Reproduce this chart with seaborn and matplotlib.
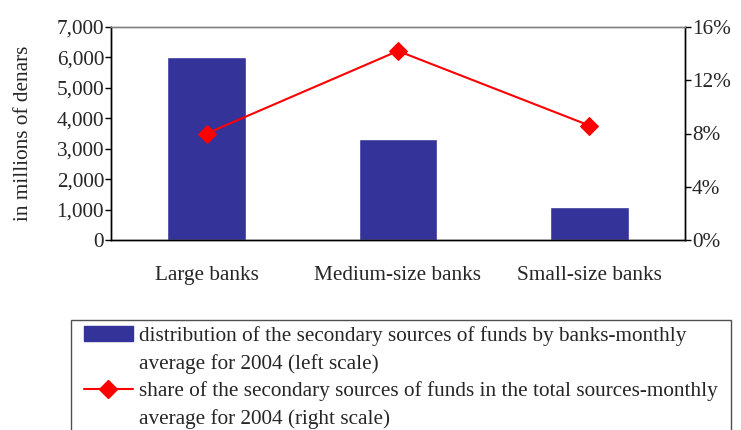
import matplotlib
matplotlib.use("Agg")
import matplotlib.pyplot as plt
import seaborn as sns
import numpy as np
from matplotlib.lines import Line2D
from matplotlib.patches import Patch, Rectangle
from matplotlib.ticker import FuncFormatter, MultipleLocator

sns.set_theme(style="white")
plt.rcParams["font.family"] = ["Liberation Serif", "DejaVu Serif"]

banks = ["Large banks", "Medium-size banks", "Small-size banks"]
funds = [6000, 3320, 1085]  # millions of denars, left scale
share = [8.0, 14.2, 8.6]  # percent, right scale

bar_color = "#333399"
line_color = "#FF0000"
fs = 15.3

W, H = 741, 430
fig = plt.figure(figsize=(W / 100, H / 100), dpi=100)
ax = fig.add_axes([111 / W, 1 - 240 / H, (685 - 111) / W, (240 - 27) / H])

pos = np.arange(len(banks))
sns.barplot(x=pos, y=funds, color=bar_color, width=0.41, saturation=1,
            native_scale=True, ax=ax)
ax.set_xlim(-0.5, 2.5)
ax.set_ylim(0, 7000)
ax.yaxis.set_major_locator(MultipleLocator(1000))
ax.yaxis.set_major_formatter(FuncFormatter(lambda v, p: f"{v:,.0f}"))
ax.set_xticks([-0.5, 0.5, 1.5, 2.5])
ax.set_xticklabels([])
ax.set_xticks(pos, minor=True)
ax.set_xticklabels(banks, minor=True, fontsize=fs)
ax.tick_params(axis="x", which="major", direction="out", length=8, width=1, color="black")
ax.tick_params(axis="x", which="minor", length=0, pad=19)
ax.tick_params(axis="y", direction="out", length=4, width=1, color="black",
               labelsize=fs, pad=1, left=True)
ax.set_ylabel("in millions of denars", fontsize=fs, labelpad=17)
ax.set_xlabel("")

ax2 = ax.twinx()
sns.lineplot(x=pos, y=share, color=line_color, marker="D", markersize=9,
             markeredgecolor=line_color, linewidth=1.5, ax=ax2)
ax2.set_ylim(0, 16)
ax2.yaxis.set_major_locator(MultipleLocator(4))
ax2.yaxis.set_major_formatter(FuncFormatter(lambda v, p: f"{v:.0f}%"))
ax2.tick_params(axis="y", direction="out", length=4, width=1, color="black",
                labelsize=fs, pad=1, right=True)
ax2.set_xlim(-0.5, 2.5)

for a in (ax, ax2):
    for side in ("left", "right", "bottom"):
        a.spines[side].set_color("black")
        a.spines[side].set_linewidth(1)
    a.spines["top"].set_color("#808080")
    a.spines["top"].set_linewidth(1)

# legend box (bottom edge runs off the figure, as in the original)
fig.patches.append(Rectangle((71 / W, -0.05), (731 - 71) / W, 0.05 + 1 - 320 / H,
                             transform=fig.transFigure, fill=False,
                             edgecolor="#505050", linewidth=1))

blank = Line2D([0], [0], color="none")
handles = [
    Patch(facecolor=bar_color, edgecolor=bar_color),
    blank,
    Line2D([0], [0], color=line_color, marker="D", markersize=9, linewidth=1.5),
    blank,
]
labels = [
    "distribution of the secondary sources of funds by banks-monthly",
    "average for 2004 (left scale)",
    "share of the secondary sources of funds in the total sources-monthly",
    "average for 2004 (right scale)",
]
leg = fig.legend(handles, labels, loc="upper left",
                 bbox_to_anchor=(84 / W, 1 - 326 / H), fontsize=fs,
                 frameon=False, handlelength=2.3, handleheight=0.7,
                 handletextpad=0.28, borderpad=0, labelspacing=0.37,
                 borderaxespad=0)

fig.savefig("out.png", dpi=100)
